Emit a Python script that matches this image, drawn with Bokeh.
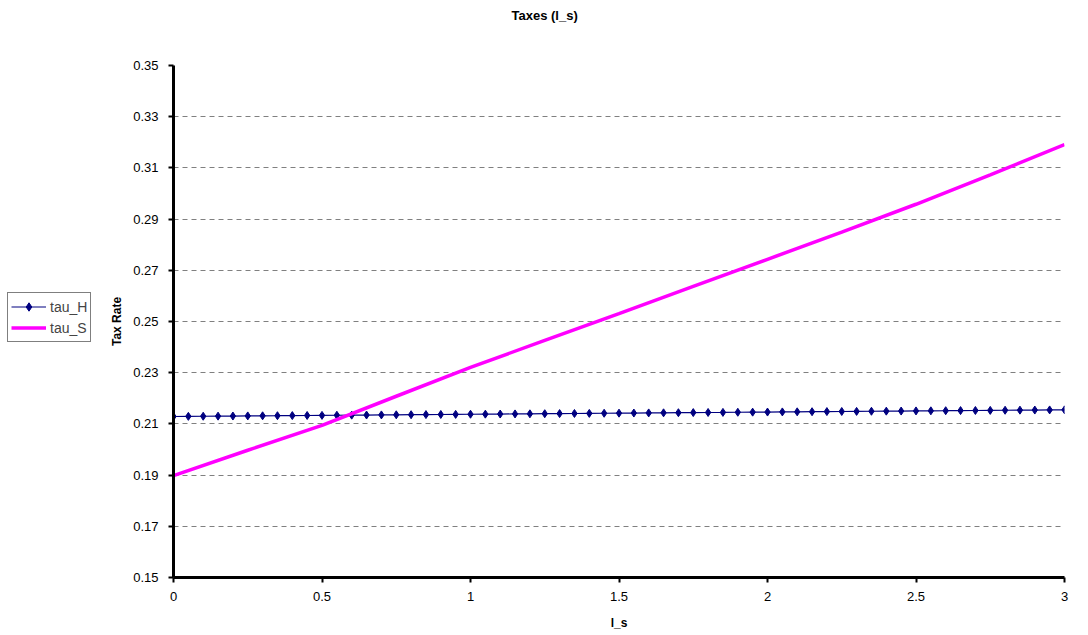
from bokeh.plotting import figure
from bokeh.layouts import row
from bokeh.models import Range1d, FixedTicker, Legend, LegendItem, Title
from bokeh.embed import file_html
from bokeh.resources import INLINE

# ---- data ----
ls_H = [0.00, 0.05, 0.10, 0.15, 0.20, 0.25, 0.30, 0.35, 0.40, 0.45,
        0.50, 0.55, 0.60, 0.65, 0.70, 0.75, 0.80, 0.85, 0.90, 0.95,
        1.00, 1.05, 1.10, 1.15, 1.20, 1.25, 1.30, 1.35, 1.40, 1.45,
        1.50, 1.55, 1.60, 1.65, 1.70, 1.75, 1.80, 1.85, 1.90, 1.95,
        2.00, 2.05, 2.10, 2.15, 2.20, 2.25, 2.30, 2.35, 2.40, 2.45,
        2.50, 2.55, 2.60, 2.65, 2.70, 2.75, 2.80, 2.85, 2.90, 2.95,
        3.00]
tau_H = [0.21290, 0.21294, 0.21299, 0.21303, 0.21307, 0.21312, 0.21316, 0.21320, 0.21325, 0.21329,
         0.21333, 0.21338, 0.21342, 0.21346, 0.21351, 0.21355, 0.21359, 0.21364, 0.21368, 0.21372,
         0.21377, 0.21381, 0.21385, 0.21390, 0.21394, 0.21398, 0.21403, 0.21407, 0.21411, 0.21416,
         0.21420, 0.21424, 0.21429, 0.21433, 0.21437, 0.21442, 0.21446, 0.21450, 0.21455, 0.21459,
         0.21463, 0.21468, 0.21472, 0.21476, 0.21481, 0.21485, 0.21489, 0.21494, 0.21498, 0.21502,
         0.21507, 0.21511, 0.21515, 0.21520, 0.21524, 0.21528, 0.21533, 0.21537, 0.21541, 0.21546,
         0.21550]
ls_S = [0.00, 0.25, 0.50, 0.75, 1.00, 1.25, 1.50, 1.75, 2.00, 2.25, 2.50, 2.75, 3.00]
tau_S = [0.1898, 0.1997, 0.2094, 0.2208, 0.2321, 0.2426, 0.2531, 0.2637, 0.2743, 0.2849, 0.2958, 0.3073, 0.3191]

x_ticks = [0, 0.5, 1, 1.5, 2, 2.5, 3]
x_tick_labels = ["0", "0.5", "1", "1.5", "2", "2.5", "3"]
y_ticks = [0.15, 0.17, 0.19, 0.21, 0.23, 0.25, 0.27, 0.29, 0.31, 0.33, 0.35]
y_tick_labels = ["0.15", "0.17", "0.19", "0.21", "0.23", "0.25", "0.27", "0.29", "0.31", "0.33", "0.35"]

FONT = "Liberation Sans"
H_COLOR = "#000080"
S_COLOR = "#FF00FF"

# ---- main chart ----
p = figure(width=988, height=635, output_backend="svg", toolbar_location=None,
           x_range=Range1d(0, 3), y_range=Range1d(0.15, 0.35), title=None,
           min_border_left=73, min_border_right=24, min_border_top=65, min_border_bottom=58)
p.outline_line_color = None
p.background_fill_color = "white"
p.border_fill_color = "white"

p.xgrid.grid_line_color = None
p.ygrid.ticker = FixedTicker(ticks=y_ticks)
p.ygrid.grid_line_color = "#808080"
p.ygrid.grid_line_dash = "5 4"
p.ygrid.grid_line_width = 1

for ax in (p.xaxis[0], p.yaxis[0]):
    ax.axis_line_color = "black"
    ax.axis_line_width = 3
    ax.major_tick_line_color = "black"
    ax.major_tick_line_width = 2
    ax.major_tick_in = 0
    ax.major_tick_out = 5
    ax.minor_tick_line_color = None
    ax.major_label_text_font = FONT
    ax.major_label_text_font_size = "13px"
    ax.major_label_text_color = "black"
    ax.axis_label_text_font = FONT
    ax.axis_label_text_font_size = "12px"
    ax.axis_label_text_font_style = "bold"
    ax.axis_label_text_color = "black"

p.xaxis.ticker = FixedTicker(ticks=x_ticks)
p.xaxis.major_label_overrides = dict(zip(x_ticks, x_tick_labels))
p.xaxis.major_label_standoff = 9
p.xaxis.axis_label = "l_s"
p.xaxis.axis_label_standoff = 12

p.yaxis.ticker = FixedTicker(ticks=y_ticks)
p.yaxis.major_label_overrides = dict(zip(y_ticks, y_tick_labels))
p.yaxis.major_label_standoff = 10
p.yaxis.axis_label = "Tax Rate"
p.yaxis.axis_label_standoff = 6

rh_line = p.line(ls_H, tau_H, line_color=H_COLOR, line_width=1.2)
rh_mark = p.scatter(ls_H, tau_H, marker="diamond", size=8, fill_color=H_COLOR, line_color=H_COLOR)
rs_line = p.line(ls_S, tau_S, line_color=S_COLOR, line_width=3.5)

# spacer between title and plot area, then the title itself
spacer = Title(text="I", text_font=FONT, text_font_size="23px", text_color="white")
p.add_layout(spacer, "above")
title = Title(text="Taxes (l_s)", text_font=FONT, text_font_size="13px", text_font_style="bold",
              text_color="black", align="left", offset=338)
p.add_layout(title, "above")

# ---- legend panel on the left (key glyphs use the same series, kept out of its view) ----
lg = figure(width=100, height=635, output_backend="svg", toolbar_location=None,
            x_range=Range1d(10, 11), y_range=Range1d(10, 11),
            x_axis_location=None, y_axis_location=None,
            min_border_left=0, min_border_right=0, min_border_top=0, min_border_bottom=0)
lg.outline_line_color = None
lg.xgrid.grid_line_color = None
lg.ygrid.grid_line_color = None
kh_line = lg.line(ls_H, tau_H, line_color=H_COLOR, line_width=1.2)
kh_mark = lg.scatter(ls_H, tau_H, marker="diamond", size=8, fill_color=H_COLOR, line_color=H_COLOR)
ks_line = lg.line(ls_S, tau_S, line_color=S_COLOR, line_width=3.5)

legend = Legend(items=[LegendItem(label="tau_H", renderers=[kh_line, kh_mark]),
                       LegendItem(label="tau_S", renderers=[ks_line])],
                location=(7, 235), orientation="vertical",
                border_line_color="black", border_line_width=1,
                background_fill_color="white", background_fill_alpha=1,
                label_text_font=FONT, label_text_font_size="14px",
                glyph_width=35, glyph_height=21, label_height=21,
                label_standoff=4, spacing=0, padding=3, margin=0)
lg.add_layout(legend, "center")

layout = row(lg, p, spacing=0)
open("out.html", "w").write(file_html(layout, INLINE))
